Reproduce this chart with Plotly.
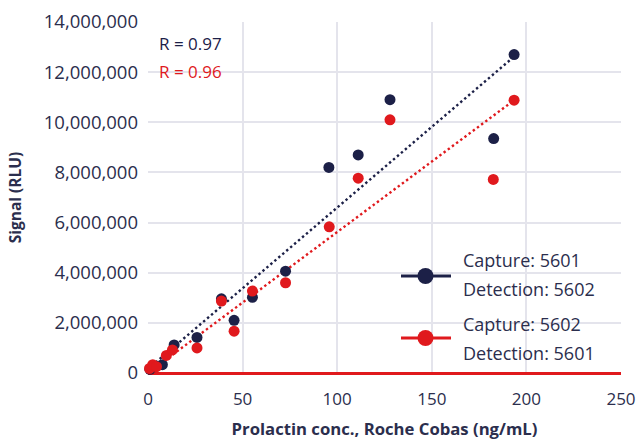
import plotly.graph_objects as go

# ---- data ----
conc_a = [1.0, 3.5, 7.6, 13.8, 25.9, 38.8, 45.5, 55.2, 72.7, 95.6, 111.1, 127.9, 182.7, 193.5]
signal_a = [150000, 250000, 330000, 1120000, 1420000, 2960000, 2100000, 3020000,
            4060000, 8200000, 8700000, 10900000, 9350000, 12700000]

conc_b = [0.8, 2.5, 4.5, 9.7, 12.9, 25.9, 38.8, 45.5, 55.2, 72.7, 95.8, 111.1, 127.9, 182.5, 193.5]
signal_b = [180000, 330000, 250000, 700000, 920000, 1000000, 2870000, 1670000,
            3270000, 3600000, 5830000, 7770000, 10100000, 7720000, 10880000]

trend_x = [2.0, 193.5]
trend_a = [290000, 12620000]
trend_b = [110000, 10880000]

r_labels = ["R = 0.97", "R = 0.96"]
legend_a = ["Capture: 5601", "Detection: 5602"]
legend_b = ["Capture: 5602", "Detection: 5601"]

x_ticks = [0, 50, 100, 150, 200, 250]
y_ticks = [0, 2000000, 4000000, 6000000, 8000000, 10000000, 12000000, 14000000]

NAVY = "#1c2047"
RED = "#e0191d"
TEXT = "#2b2e4d"
GRID = "#e4e4ec"
FONT = "Open Sans"

fig = go.Figure()

fig.add_trace(go.Scatter(x=trend_x, y=trend_a, mode="lines",
                         line=dict(color=NAVY, width=2.4, dash="2.4px,2.8px"),
                         showlegend=False, hoverinfo="skip"))
fig.add_trace(go.Scatter(x=trend_x, y=trend_b, mode="lines",
                         line=dict(color=RED, width=2.4, dash="2.4px,2.8px"),
                         showlegend=False, hoverinfo="skip"))
fig.add_trace(go.Scatter(x=conc_a, y=signal_a, mode="markers",
                         marker=dict(color=NAVY, size=11), cliponaxis=False,
                         name=" ".join(legend_a), showlegend=False))
fig.add_trace(go.Scatter(x=conc_b, y=signal_b, mode="markers",
                         marker=dict(color=RED, size=11), cliponaxis=False,
                         name=" ".join(legend_b), showlegend=False))

# plot area in pixels: x 148..621, y 22..373
L, T, W, H = 148, 22, 473, 351
def px(xp):
    return (xp - L) / W
def py(yp):
    return (T + H - yp) / H

shapes = []
annotations = []
for color, ycen, labels, ytexts in [(NAVY, 276, legend_a, (260, 289)),
                                    (RED, 338, legend_b, (324, 353))]:
    shapes.append(dict(type="line", xref="paper", yref="paper",
                       x0=px(401), x1=px(451), y0=py(ycen), y1=py(ycen),
                       line=dict(color=color, width=3)))
    shapes.append(dict(type="circle", xref="paper", yref="paper",
                       xsizemode="pixel", ysizemode="pixel",
                       xanchor=px(425.5), yanchor=py(ycen),
                       x0=-8, x1=8, y0=-8, y1=8,
                       fillcolor=color, line=dict(color=color, width=0)))
    for lab, yt in zip(labels, ytexts):
        annotations.append(dict(text=lab, xref="paper", yref="paper",
                                x=px(461), y=py(yt), xanchor="left", yanchor="middle",
                                showarrow=False, font=dict(family=FONT, size=18, color=TEXT)))

annotations.append(dict(text=r_labels[0], xref="paper", yref="paper", x=px(157), y=py(43),
                        xanchor="left", yanchor="middle", showarrow=False,
                        font=dict(family=FONT, size=17, color=NAVY)))
annotations.append(dict(text=r_labels[1], xref="paper", yref="paper", x=px(157), y=py(71),
                        xanchor="left", yanchor="middle", showarrow=False,
                        font=dict(family=FONT, size=17, color=RED)))

fig.update_layout(
    width=638, height=448,
    margin=dict(l=148, r=17, t=22, b=75),
    paper_bgcolor="white", plot_bgcolor="white",
    font=dict(family=FONT, color=TEXT),
    showlegend=False,
    shapes=shapes, annotations=annotations,
    xaxis=dict(range=[0, 250], tickvals=x_ticks, ticktext=[str(v) for v in x_ticks],
               automargin=False,
               showgrid=True, gridcolor=GRID, gridwidth=1.5,
               zeroline=False, showline=False,
               ticks="", ticklabelstandoff=14,
               tickfont=dict(family=FONT, size=17, color=TEXT),
               title=dict(text="<b>Prolactin conc., Roche Cobas (ng/mL)</b>",
                          font=dict(family=FONT, size=16.7, color=TEXT), standoff=14)),
    yaxis=dict(range=[0, 14000000], tickvals=y_ticks,
               ticktext=[f"{v:,}" for v in y_ticks],
               automargin=False,
               showgrid=True, gridcolor=GRID, gridwidth=1.5,
               zeroline=True, zerolinecolor=RED, zerolinewidth=2.5,
               showline=False, ticks="", ticklabelstandoff=9,
               tickfont=dict(family=FONT, size=18.5, color=TEXT),
               title=dict(text="<b>Signal (RLU)</b>",
                          font=dict(family=FONT, size=15.5, color=TEXT), standoff=18)),
)

fig.write_html("out.html", config={"displayModeBar": False},
               post_script="document.body.style.margin='0';")
